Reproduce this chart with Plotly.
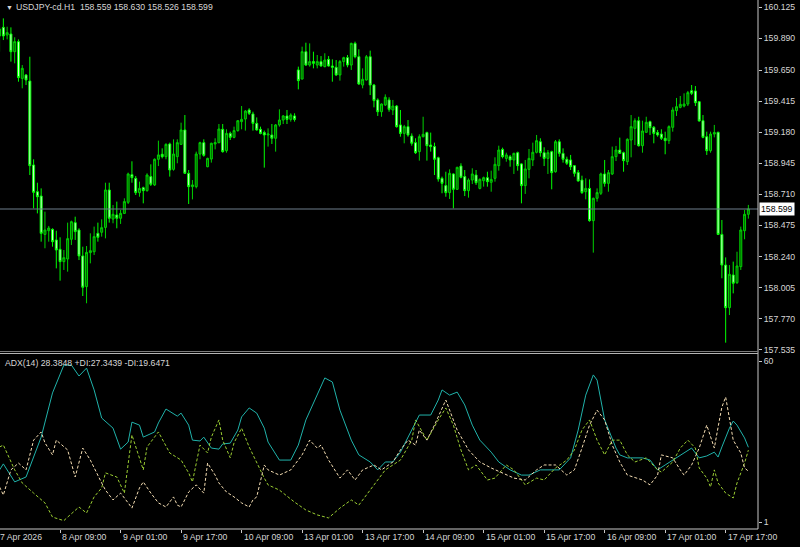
import plotly.graph_objects as go

# ---------------- data ----------------
opens = [159.908,159.973,159.915,159.923,159.789,159.865,159.587,159.613,159.567,158.932,
         158.730,158.697,158.407,158.435,158.445,158.365,158.294,158.201,158.221,158.370,
         158.496,158.440,158.244,158.012,158.269,158.276,158.415,158.423,158.460,158.743,
         158.523,158.554,158.529,158.566,158.650,158.859,158.831,158.723,158.760,158.738,
         158.844,158.781,158.975,159.013,158.995,159.091,158.899,158.995,159.088,159.197,
         158.869,158.768,158.768,159.015,159.101,158.919,158.977,159.091,159.101,159.202,
         159.040,159.171,159.141,159.192,159.260,159.280,159.348,159.318,159.247,159.202,
         159.177,159.159,159.159,159.134,159.235,159.272,159.303,159.277,159.303,159.651,
         159.582,159.789,159.688,159.714,159.688,159.714,159.676,159.731,159.681,159.671,
         159.613,159.714,159.744,159.688,159.852,159.751,159.537,159.575,159.751,159.537,
         159.424,159.335,159.386,159.424,159.348,159.378,159.235,159.171,159.222,159.151,
         159.101,159.033,159.146,159.177,159.083,159.071,158.987,158.831,158.776,158.723,
         158.864,158.748,158.924,158.844,158.738,158.818,158.856,158.755,158.813,158.836,
         158.801,158.831,158.927,159.050,158.982,158.995,158.970,159.025,158.940,158.776,
         158.899,158.970,159.028,159.108,159.025,158.982,159.033,158.881,159.108,159.020,
         158.975,158.970,158.927,158.876,158.818,158.730,158.755,158.511,158.680,158.718,
         158.864,158.793,158.864,158.995,159.045,159.025,158.957,159.121,159.209,159.267,
         159.078,159.179,159.260,159.217,159.177,159.166,159.134,159.116,159.217,159.343,
         159.368,159.378,159.393,159.494,159.492,159.411,159.267,159.146,159.040,159.166,
         159.179,158.407,158.175,157.853,158.100,158.042,158.163,158.435,158.559]
highs = [159.978,160.041,159.978,159.973,159.898,159.882,159.688,159.620,159.751,158.975,
         158.798,158.755,158.579,158.471,158.453,158.435,158.385,158.289,158.496,158.511,
         158.541,158.453,158.314,158.319,158.415,158.466,158.496,158.521,158.798,158.798,
         158.629,158.655,158.592,158.680,158.874,158.960,158.849,158.806,158.768,158.869,
         158.937,158.982,159.116,159.058,159.096,159.101,159.126,159.126,159.252,159.310,
         158.894,158.818,159.033,159.108,159.126,158.987,159.101,159.134,159.242,159.242,
         159.202,159.184,159.222,159.272,159.378,159.348,159.361,159.335,159.292,159.222,
         159.192,159.209,159.242,159.242,159.353,159.310,159.348,159.323,159.323,159.676,
         159.827,159.857,159.852,159.789,159.764,159.756,159.777,159.756,159.731,159.726,
         159.726,159.751,159.764,159.857,159.865,159.807,159.663,159.764,159.797,159.545,
         159.436,159.398,159.466,159.444,159.424,159.386,159.348,159.235,159.272,159.171,
         159.134,159.164,159.297,159.184,159.177,159.101,158.995,158.844,158.881,158.899,
         158.869,158.919,158.945,158.894,158.831,158.907,158.894,158.831,158.844,158.881,
         158.889,158.990,159.078,159.063,159.025,159.008,159.025,159.033,158.945,158.970,
         159.053,159.101,159.159,159.134,159.066,159.045,159.040,159.121,159.126,159.058,
         158.995,159.008,158.932,158.894,158.851,158.831,158.823,158.685,158.755,158.874,
         158.970,158.894,159.071,159.076,159.139,159.033,159.134,159.310,159.285,159.297,
         159.267,159.297,159.267,159.227,159.197,159.202,159.184,159.232,159.368,159.439,
         159.454,159.474,159.492,159.537,159.529,159.416,159.310,159.184,159.184,159.235,
         159.184,158.516,158.233,158.175,158.201,158.276,158.466,158.592,158.630]
lows = [159.789,159.877,159.882,159.714,159.701,159.562,159.512,159.537,158.856,158.604,
        158.566,158.352,158.302,158.352,158.314,158.150,158.057,158.138,158.125,158.327,
        158.365,158.213,157.941,157.886,158.188,158.251,158.352,158.390,158.377,158.496,
        158.491,158.453,158.486,158.561,158.637,158.798,158.705,158.692,158.642,158.730,
        158.773,158.773,158.924,158.982,158.975,158.844,158.889,158.945,159.083,158.864,
        158.637,158.672,158.755,158.975,158.995,158.915,158.950,159.050,159.096,159.025,
        159.025,159.121,159.134,159.184,159.202,159.192,159.310,159.192,159.192,159.164,
        158.912,159.071,159.091,159.033,159.222,159.242,159.242,159.260,159.260,159.504,
        159.580,159.681,159.676,159.663,159.663,159.676,159.671,159.676,159.562,159.605,
        159.570,159.676,159.671,159.651,159.739,159.537,159.512,159.570,159.461,159.368,
        159.303,159.297,159.378,159.335,159.310,159.214,159.146,159.096,159.146,159.078,
        159.015,158.965,159.141,158.965,159.033,158.856,158.806,158.718,158.692,158.675,
        158.604,158.743,158.831,158.697,158.685,158.788,158.781,158.748,158.768,158.768,
        158.730,158.806,158.889,158.982,158.957,158.919,158.864,158.889,158.642,158.713,
        158.831,158.924,159.020,158.995,158.924,158.864,158.748,158.874,158.995,158.950,
        158.932,158.894,158.844,158.806,158.713,158.672,158.503,158.269,158.655,158.705,
        158.768,158.730,158.856,158.962,159.015,158.881,158.932,158.990,159.083,159.071,
        159.025,159.177,159.159,159.096,159.146,159.121,159.013,159.091,159.184,159.303,
        159.361,159.368,159.378,159.461,159.378,159.260,159.134,159.008,159.025,159.141,
        158.402,158.075,157.588,157.797,157.961,158.032,158.138,158.370,158.526]
closes = [159.960,159.908,159.933,159.789,159.865,159.593,159.663,159.575,158.927,158.725,
          158.692,158.415,158.440,158.455,158.352,158.289,158.201,158.231,158.375,158.503,
          158.428,158.244,158.007,158.271,158.284,158.390,158.385,158.458,158.743,158.529,
          158.559,158.529,158.566,158.655,158.864,158.836,158.723,158.755,158.738,158.856,
          158.786,158.975,159.008,158.995,159.088,158.894,159.015,159.101,159.197,158.869,
          158.768,158.781,159.015,159.101,159.005,158.982,159.096,159.101,159.204,159.033,
          159.171,159.141,159.192,159.267,159.277,159.340,159.323,159.247,159.197,159.171,
          159.159,159.166,159.134,159.235,159.272,159.303,159.277,159.310,159.277,159.570,
          159.789,159.688,159.714,159.701,159.714,159.681,159.726,159.681,159.671,159.613,
          159.714,159.744,159.688,159.852,159.751,159.545,159.580,159.751,159.537,159.419,
          159.335,159.393,159.444,159.353,159.378,159.222,159.171,159.222,159.159,159.096,
          159.025,159.146,159.164,159.078,159.071,158.975,158.826,158.793,158.723,158.869,
          158.748,158.914,158.839,158.738,158.818,158.864,158.798,158.823,158.836,158.806,
          158.823,158.937,159.045,158.995,159.008,158.970,159.020,158.927,158.776,158.902,
          158.982,159.028,159.116,159.025,158.982,159.025,158.874,159.108,159.020,158.975,
          158.945,158.919,158.869,158.811,158.723,158.755,158.511,158.680,158.723,158.864,
          158.793,158.874,158.995,159.045,159.020,158.965,159.126,159.222,159.267,159.078,
          159.189,159.255,159.214,159.171,159.159,159.134,159.116,159.222,159.348,159.373,
          159.391,159.393,159.479,159.474,159.403,159.265,159.141,159.040,159.166,159.177,
          158.407,158.175,157.853,158.105,158.037,158.168,158.440,158.559,158.599]
bar_idx = list(range(len(closes)))

# ADX(14) readings (bar index, value)
adx_x = [0,1,4,7,11,14,17,19,21,23,25,27,30,32,34,35,37,38,41,42,44,47,48,50,51,53,54,56,58,59,
         61,63,64,66,68,70,71,74,77,79,81,84,86,88,90,93,95,98,100,102,104,106,109,111,114,116,117,119,121,123,
         125,127,130,132,135,138,140,143,146,148,151,153,155,157,158,160,163,164,166,170,172,174,176,178,180,183,
         185,187,189,190,191,193,194,195,197,198]
adx_v = [20.1,22.3,15.7,17.5,32.1,48.3,58.5,58.5,54.5,57.4,49.4,39.1,35.4,27.7,30.3,37.6,36.5,32.1,34.0,37.3,
         42.4,39.8,40.9,36.5,31.0,30.7,32.1,28.1,27.7,29.6,29.9,34.7,39.5,42.8,40.9,35.4,30.3,23.7,23.7,29.2,
         38.4,47.5,53.8,52.3,42.0,31.0,25.6,23.0,20.1,23.0,23.0,26.6,34.7,40.2,40.2,45.7,49.4,47.5,48.6,43.9,
         36.5,31.0,26.6,23.0,20.1,18.2,18.2,20.1,20.1,20.1,24.5,34.7,47.5,54.9,53.0,38.4,28.1,25.6,24.5,24.5,
         23.7,20.1,21.9,23.7,25.6,28.1,24.5,25.2,26.6,24.8,28.5,35.4,38.0,36.5,31.8,28.3848]
pdi_x = [0,1,4,6,9,12,14,17,18,21,23,25,27,28,31,33,35,37,38,39,42,45,48,50,51,53,55,56,58,59,
         61,62,64,66,68,70,71,74,78,81,84,87,90,93,95,98,102,106,109,110,113,116,118,120,122,124,126,129,131,134,
         136,139,142,144,147,150,152,154,156,158,160,162,164,166,168,171,174,175,178,180,182,184,185,187,188,189,
         190,192,194,195,197,198]
pdi_v = [28.5,29.2,20.1,15.3,11.6,8.0,2.8,1.5,2.8,6.5,4.3,10.2,13.5,19.0,17.5,11.6,32.9,24.8,20.1,28.5,
         34.0,26.3,23.7,19.0,15.7,29.2,26.3,32.1,38.4,31.0,24.5,30.0,35.4,28.5,22.6,17.1,14.6,12.7,8.3,5.4,
         3.6,2.5,6.1,9.1,7.2,12.7,20.1,23.7,31.0,38.4,31.0,38.4,42.8,36.5,27.4,20.1,21.9,16.4,17.1,21.9,
         20.1,14.6,17.1,16.4,20.8,23.7,27.4,34.7,38.4,31.0,25.6,31.0,31.0,25.6,23.0,24.5,20.1,19.3,23.0,28.1,
         31.0,28.1,20.8,17.1,13.8,20.1,15.3,11.6,9.8,15.3,22.6,27.3439]
mdi_x = [0,1,3,5,7,9,11,12,14,15,18,20,22,24,27,28,30,32,34,35,37,38,40,42,44,46,47,48,50,52,
         54,55,57,58,60,62,64,66,67,68,70,71,74,77,80,82,84,85,87,90,92,94,96,99,101,104,106,108,110,111,
         113,115,118,119,121,124,127,130,134,136,139,142,144,147,150,152,154,156,158,160,162,164,166,170,172,174,
         175,178,180,181,183,185,187,188,189,190,191,192,193,194,196,197,198]
mdi_v = [13.8,10.9,20.1,22.6,20.1,31.0,34.0,30.0,25.6,31.0,27.4,17.5,28.1,23.7,15.3,12.7,9.1,11.6,8.0,6.1,
         13.5,15.7,11.6,8.0,6.5,10.2,7.2,6.5,12.0,14.6,11.6,22.6,18.2,15.3,12.0,10.2,8.0,6.5,9.1,10.2,
         21.9,20.1,18.2,20.1,25.6,31.0,28.1,29.2,23.7,17.1,20.1,16.4,20.1,21.9,20.1,23.0,27.4,31.0,29.2,34.7,
         31.0,36.5,45.7,42.0,34.7,27.4,23.0,20.8,18.2,17.1,16.4,20.1,21.9,21.9,18.2,20.1,28.1,36.5,42.0,38.4,
         29.2,23.0,18.2,16.4,14.6,18.2,25.6,24.5,20.1,18.2,21.9,28.1,36.5,32.1,28.1,35.8,43.1,46.8,39.5,31.0,
         26.3,20.8,19.6471]

price_ticks = [160.125,159.890,159.650,159.415,159.180,158.945,158.710,158.475,158.240,158.005,157.770,157.535]
adx_ticks = [1, 60]
time_tick_idx = [0,16,32,48,64,80,96,112,128,144,160,176,192]
time_tick_lbl = ["7 Apr 2026","8 Apr 09:00","9 Apr 01:00","9 Apr 17:00","10 Apr 09:00","13 Apr 01:00",
                 "13 Apr 17:00","14 Apr 09:00","15 Apr 01:00","15 Apr 17:00","16 Apr 09:00",
                 "17 Apr 01:00","17 Apr 17:00"]
symbol = "USDJPY-cd.H1"
adx_label = "ADX(14) 28.3848 +DI:27.3439 -DI:19.6471"

# ---------------- figure ----------------
W, H = 800, 547
ML, MR, MT, MB = 0, 42, 0, 18
PH = H - MT - MB
def py(pix):
    return (PH - pix) / PH

FONT = "Liberation Sans, Arial, sans-serif"
FS = 8.7
TXT = "#d6d6d6"

fig = go.Figure()
fig.add_trace(go.Candlestick(
    x=bar_idx, open=opens, high=highs, low=lows, close=closes,
    xaxis="x", yaxis="y", whiskerwidth=0, hoverinfo="skip",
    increasing=dict(line=dict(color="#00d000", width=1), fillcolor="#006400"),
    decreasing=dict(line=dict(color="#00ff00", width=1), fillcolor="#d6ffd6"),
))
fig.add_trace(go.Scatter(x=adx_x, y=adx_v, mode="lines", xaxis="x2", yaxis="y2",
                         line=dict(color="#20B2AA", width=1), hoverinfo="skip"))
fig.add_trace(go.Scatter(x=pdi_x, y=pdi_v, mode="lines", xaxis="x2", yaxis="y2",
                         line=dict(color="#9ACD32", width=1, dash="3px,2px"), hoverinfo="skip"))
fig.add_trace(go.Scatter(x=mdi_x, y=mdi_v, mode="lines", xaxis="x2", yaxis="y2",
                         line=dict(color="#F5DEB3", width=1, dash="3px,2px"), hoverinfo="skip"))

xr = [0.114, 200.55]
ax_common = dict(showgrid=False, zeroline=False, range=xr, fixedrange=True)
fig.update_layout(
    width=W, height=H, margin=dict(l=ML, r=MR, t=MT, b=MB, pad=0),
    paper_bgcolor="black", plot_bgcolor="black", showlegend=False,
    boxgap=0.25,
    font=dict(family=FONT, size=FS, color=TXT),
    xaxis=dict(domain=[0, 1], anchor="y", showticklabels=False, ticks="",
               rangeslider=dict(visible=False), **ax_common),
    xaxis2=dict(domain=[0, 1], anchor="y2", matches="x", showticklabels=False,
                tickmode="array", tickvals=time_tick_idx, ticks="outside", ticklen=3,
                tickcolor="#c8c8c8", **ax_common),
    yaxis=dict(domain=[py(351), 1], range=[157.525, 160.18], side="right",
               tickmode="array", tickvals=price_ticks,
               ticktext=[f"{v:.3f}" for v in price_ticks],
               ticks="outside", ticklen=3, tickcolor="#c8c8c8",
               tickfont=dict(family=FONT, size=FS, color=TXT),
               showgrid=False, zeroline=False, fixedrange=True),
    yaxis2=dict(domain=[0, py(355)], range=[-1.56, 62.2], side="right",
                tickmode="array", tickvals=adx_ticks, ticktext=[str(v) for v in adx_ticks],
                ticks="outside", ticklen=3, tickcolor="#c8c8c8",
                tickfont=dict(family=FONT, size=FS, color=TXT),
                showgrid=False, zeroline=False, fixedrange=True),
)

shapes = []
shapes.append(dict(type="line", xref="paper", yref="y", x0=0, x1=1,
                   y0=closes[-1], y1=closes[-1], line=dict(color="#6f7f8c", width=1)))
shapes.append(dict(type="line", xref="paper", yref="paper", x0=1, x1=1, y0=0, y1=1,
                   line=dict(color="#c8c8c8", width=1)))
shapes.append(dict(type="line", xref="paper", yref="paper", x0=0, x1=1, y0=0, y1=0,
                   line=dict(color="#c8c8c8", width=1)))
shapes.append(dict(type="line", xref="paper", yref="paper", x0=0, x1=1, y0=py(351.5), y1=py(351.5),
                   line=dict(color="#7a7a7a", width=1)))
shapes.append(dict(type="line", xref="paper", yref="paper", x0=0, x1=1, y0=py(353.5), y1=py(353.5),
                   line=dict(color="#b4b4b4", width=1)))
fig.update_layout(shapes=shapes)

ann = []
ann.append(dict(xref="paper", yref="paper", x=0, y=py(7), xanchor="left", yanchor="middle",
                xshift=4, text="▼", showarrow=False, font=dict(size=7, color=TXT)))
ann.append(dict(xref="paper", yref="paper", x=0, y=py(7), xanchor="left", yanchor="middle",
                xshift=14, showarrow=False,
                text=f"{symbol}  {opens[-1]:.3f} {highs[-1]:.3f} {lows[-1]:.3f} {closes[-1]:.3f}"))
ann.append(dict(xref="paper", yref="paper", x=0, y=py(363), xanchor="left", yanchor="middle",
                xshift=3, showarrow=False, text=adx_label))
ann.append(dict(xref="paper", yref="y", x=1, y=closes[-1], xanchor="left", yanchor="middle",
                xshift=1, showarrow=False, text=f"{closes[-1]:.3f}", bgcolor="white",
                borderpad=1, font=dict(color="black", family=FONT, size=FS)))
for i, lbl in zip(time_tick_idx, time_tick_lbl):
    ann.append(dict(xref="x2", yref="paper", x=max(i, xr[0]), y=py(537), xanchor="left",
                    yanchor="middle", xshift=-2 if i < xr[0] else 0, showarrow=False, text=lbl))
fig.update_layout(annotations=ann)

fig.write_html("out.html", config={"displayModeBar": False},
               post_script="document.body.style.margin='0';document.body.style.background='black';")
